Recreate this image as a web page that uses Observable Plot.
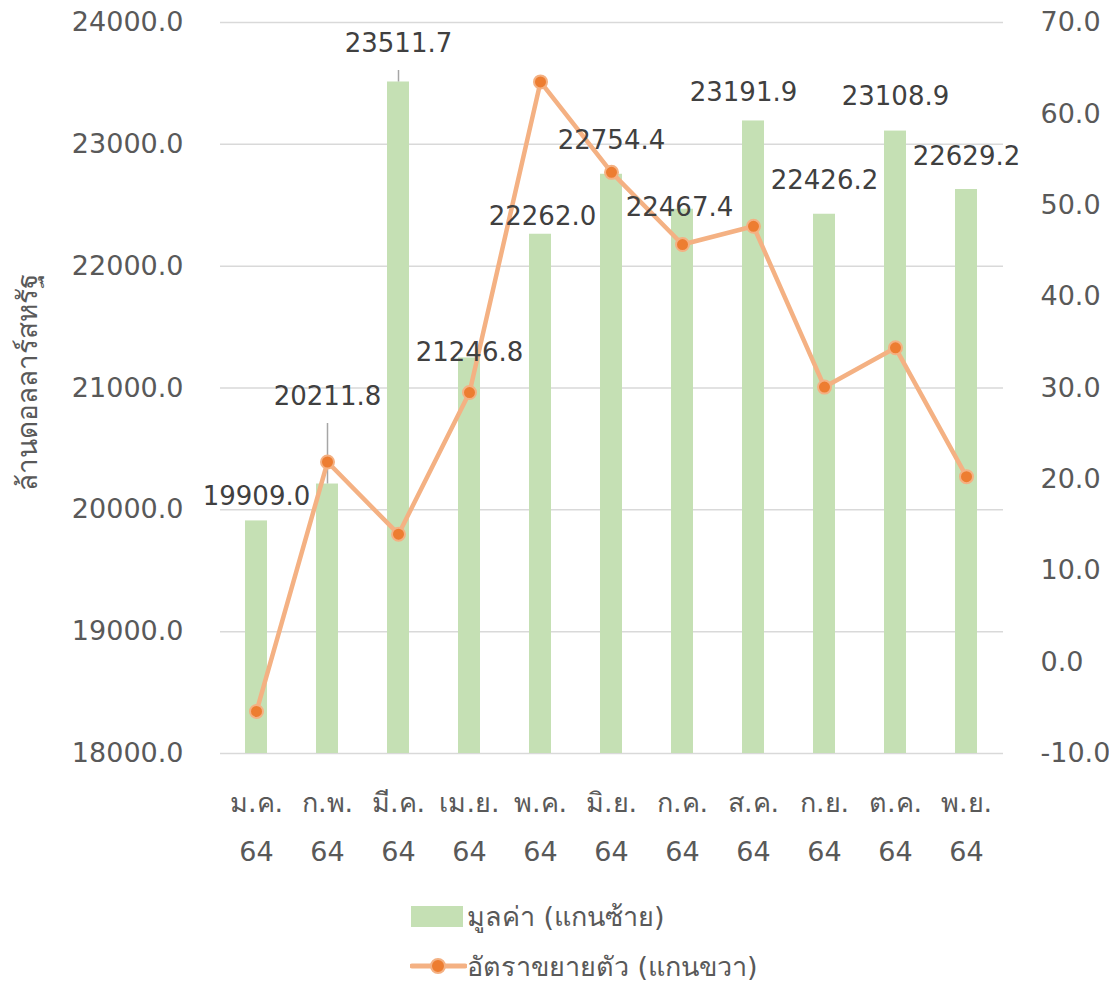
<!DOCTYPE html>
<html>
<head>
<meta charset="utf-8">
<script src="https://cdn.jsdelivr.net/npm/d3@7"></script>
<script src="https://cdn.jsdelivr.net/npm/@observablehq/plot@0.6"></script>
<style>
  html, body { margin: 0; padding: 0; background: #fff; }
  body { width: 1109px; height: 981px; overflow: hidden; font-family: "DejaVu Sans", "Noto Sans", sans-serif; }
  #chart { position: relative; width: 1109px; }
  .legend { position: relative; width: 1109px; height: 101px; color: #595959; font-size: 27px; }
  .leg-row { position: absolute; left: 410px; display: flex; align-items: center; height: 36px; }
  .sw-bar { width: 52px; height: 21px; background: #C5E0B4; margin-left: 1px; margin-right: 4px; }
  .sw-line { width: 57px; height: 20px; margin-right: 0px; }
</style>
</head>
<body>
<div id="chart"></div>
<div class="legend">
  <div class="leg-row" style="top: 18px;"><div class="sw-bar"></div><span id="leg1"></span></div>
  <div class="leg-row" style="top: 68px;"><svg class="sw-line" viewBox="0 0 57 20"><line x1="2" y1="10" x2="55" y2="10" stroke="#F4B183" stroke-width="5" stroke-linecap="round"/><circle cx="28" cy="10" r="7" fill="#ED7D31" stroke="#F4B183" stroke-width="2"/></svg><span id="leg2"></span></div>
</div>
<script>
// ---- data ----
const months = ["ม.ค.", "ก.พ.", "มี.ค.", "เม.ย.", "พ.ค.", "มิ.ย.", "ก.ค.", "ส.ค.", "ก.ย.", "ต.ค.", "พ.ย."];
const yearLabel = "64";
const values = [19909.0, 20211.8, 23511.7, 21246.8, 22262.0, 22754.4, 22467.4, 23191.9, 22426.2, 23108.9, 22629.2];
const growth = [-5.4, 21.9, 14.0, 29.5, 63.5, 53.6, 45.7, 47.7, 30.1, 34.4, 20.3];
const leftTicks = [18000, 19000, 20000, 21000, 22000, 23000, 24000];
const rightTicks = [-10, 0, 10, 20, 30, 40, 50, 60, 70];
const seriesNames = ["มูลค่า (แกนซ้าย)", "อัตราขยายตัว (แกนขวา)"];
const yTitle = "ล้านดอลลาร์สหรัฐ";

// ---- layout (label offsets in px, not data) ----
const labelOffsets = [[0, -24], [0, -87], [0, -38], [0, -5], [2, -18], [0, -34], [-3, -2], [-10, -28], [0, -34], [0, -34], [0, -33]];
const leaderTops = {1: 401, 2: 48};

// ---- scale mapping for right axis onto left domain ----
const L0 = 18000, L1 = 24000, R0 = -10, R1 = 70;
const toLeft = r => L0 + (r - R0) * (L1 - L0) / (R1 - R0);
const fromLeft = l => R0 + (l - L0) * (R1 - R0) / (L1 - L0);

const data = months.map((m, i) => ({month: m, value: values[i], growth: growth[i], g: toLeft(growth[i])}));

const font = '"DejaVu Sans", "Noto Sans", sans-serif';
const fmtR = v => Math.round(v * 10) / 10 === 0 ? "0.0" : (Math.round(v * 10) / 10).toFixed(1);

const labelMarks = data.map((d, i) => Plot.text([d], {
  x: "month", y: "value", text: d => d.value.toFixed(1),
  dx: labelOffsets[i][0], dy: labelOffsets[i][1],
  fill: "#404040", fontSize: 26, textAnchor: "middle", lineAnchor: "middle"
}));

const leaderMarks = Object.entries(leaderTops).map(([i, top]) => Plot.ruleX([data[+i]], {
  x: "month", y1: () => L1, y2: "value", insetTop: top, stroke: "#A6A6A6", strokeWidth: 1.5
}));

const chart = Plot.plot({
  width: 1109,
  height: 880,
  marginTop: 22,
  marginBottom: 127,
  marginLeft: 220,
  marginRight: 106,
  style: {fontFamily: font, background: "#fff", overflow: "visible"},
  x: {type: "band", domain: months, paddingInner: 0.69, paddingOuter: 0.345, label: null},
  y: {domain: [L0, L1], label: null},
  marks: [
    Plot.gridY(leftTicks, {stroke: "#D9D9D9", strokeOpacity: 1, strokeWidth: 1.5}),
    Plot.barY(data, {x: "month", y1: () => L0, y2: "value", fill: "#C5E0B4"}),
    ...leaderMarks,
    Plot.line(data, {x: "month", y: "g", stroke: "#F4B183", strokeWidth: 4.5, curve: "linear"}),
    Plot.dot(data, {x: "month", y: "g", r: 6.5, fill: "#ED7D31", stroke: "#F4B183", strokeWidth: 2}),
    ...labelMarks,
    Plot.axisY(leftTicks, {anchor: "left", tickSize: 0, tickPadding: 37, tickFormat: d => d.toFixed(1), fontSize: 27, color: "#595959", label: null}),
    Plot.axisY(rightTicks.map(toLeft), {anchor: "right", tickSize: 0, tickPadding: 37, tickFormat: d => fmtR(fromLeft(d)), fontSize: 27, color: "#595959", label: null}),
    Plot.axisX({tickSize: 0, tickPadding: 24, tickFormat: d => d + "\n" + yearLabel, fontSize: 27, lineHeight: 1.8, color: "#595959", label: null}),
    Plot.text([yTitle], {frameAnchor: "left", rotate: -90, dx: -192, dy: -6, fontSize: 28, fill: "#595959", textAnchor: "middle", lineAnchor: "middle"})
  ]
});

document.getElementById("chart").appendChild(chart);
document.getElementById("leg1").textContent = seriesNames[0];
document.getElementById("leg2").textContent = seriesNames[1];
</script>
</body>
</html>
